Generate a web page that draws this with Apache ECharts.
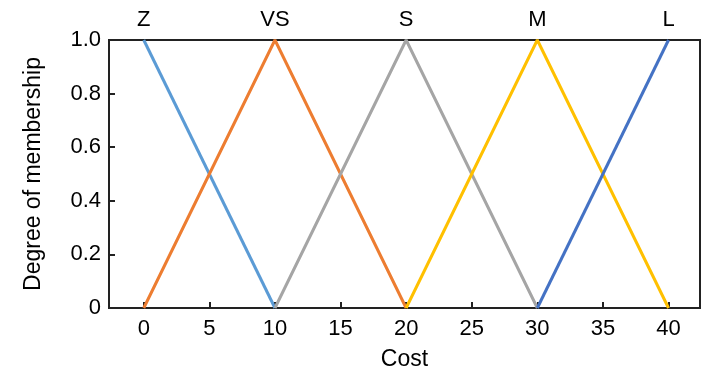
<!DOCTYPE html>
<html>
<head>
<meta charset="utf-8">
<script src="https://cdn.jsdelivr.net/npm/echarts@6/dist/echarts.min.js"></script>
<style>
  html, body { margin: 0; padding: 0; background: #fff; }
  #chart { width: 707px; height: 371px; }
</style>
</head>
<body>
<div id="chart"></div>
<script>
const xMin = -2.65
const xMax = 42.4
const peakNames = { 0: 'Z', 10: 'VS', 20: 'S', 30: 'M', 40: 'L' }
const setNames = ['Z', 'VS', 'S', 'M', 'L']
const colors = ['#5b9bd5', '#ed7d31', '#a5a5a5', '#ffc000', '#4472c4']

// membership functions, [cost, degree]
const zData = [[0, 1], [10, 0]]
const vsData = [[0, 0], [10, 1], [20, 0]]
const sData = [[10, 0], [20, 1], [30, 0]]
const mData = [[20, 0], [30, 1], [40, 0]]
const lData = [[30, 0], [40, 1]]

const seriesData = [zData, vsData, sData, mData, lData]

const font = 'Liberation Sans, Arial, sans-serif'
const tickStyle = { show: true, inside: true, length: 6, lineStyle: { color: '#222', width: 2 } }

const chart = echarts.init(document.getElementById('chart'), null, { renderer: 'canvas' })

const option = {
  backgroundColor: '#ffffff',
  animation: false,
  grid: {
    left: 109, right: 7, top: 40, bottom: 63,
    outerBoundsMode: 'none',
    show: true, borderColor: '#222', borderWidth: 2
  },
  xAxis: [{
    type: 'value',
    min: xMin,
    max: xMax,
    splitNumber: 9, // gives a step of 5
    name: 'Cost',
    nameLocation: 'middle',
    nameGap: 40,
    nameTextStyle: { fontFamily: font, fontSize: 23, color: '#000' },
    axisLine: { show: false, onZero: false },
    splitLine: { show: false },
    axisTick: tickStyle,
    axisLabel: {
      fontFamily: font, fontSize: 22, color: '#000', margin: 10,
      showMinLabel: false, showMaxLabel: false
    }
  }, {
    type: 'value',
    position: 'top',
    min: xMin,
    max: xMax,
    splitNumber: 5, // step of 10
    axisLine: { show: false, onZero: false },
    splitLine: { show: false },
    axisTick: { show: false },
    axisLabel: {
      fontFamily: font, fontSize: 22, color: '#000', margin: 9,
      showMinLabel: false, showMaxLabel: false,
      formatter: function (v) { return peakNames[v] || '' }
    }
  }],
  yAxis: {
    type: 'value',
    min: 0,
    max: 1,
    interval: 0.2,
    name: 'Degree of membership',
    nameLocation: 'middle',
    nameGap: 64,
    nameTextStyle: { fontFamily: font, fontSize: 23, color: '#000' },
    axisLine: { show: false, onZero: false },
    splitLine: { show: false },
    axisTick: tickStyle,
    axisLabel: {
      fontFamily: font, fontSize: 22, color: '#000', margin: 8,
      formatter: function (v) { return v === 0 ? '0' : v.toFixed(1) }
    }
  },
  series: seriesData.map(function (d, i) {
    return {
      type: 'line',
      name: setNames[i],
      data: d,
      symbol: 'none',
      lineStyle: { color: colors[i], width: 3 },
      z: 3
    }
  })
}

chart.setOption(option)
</script>
</body>
</html>
